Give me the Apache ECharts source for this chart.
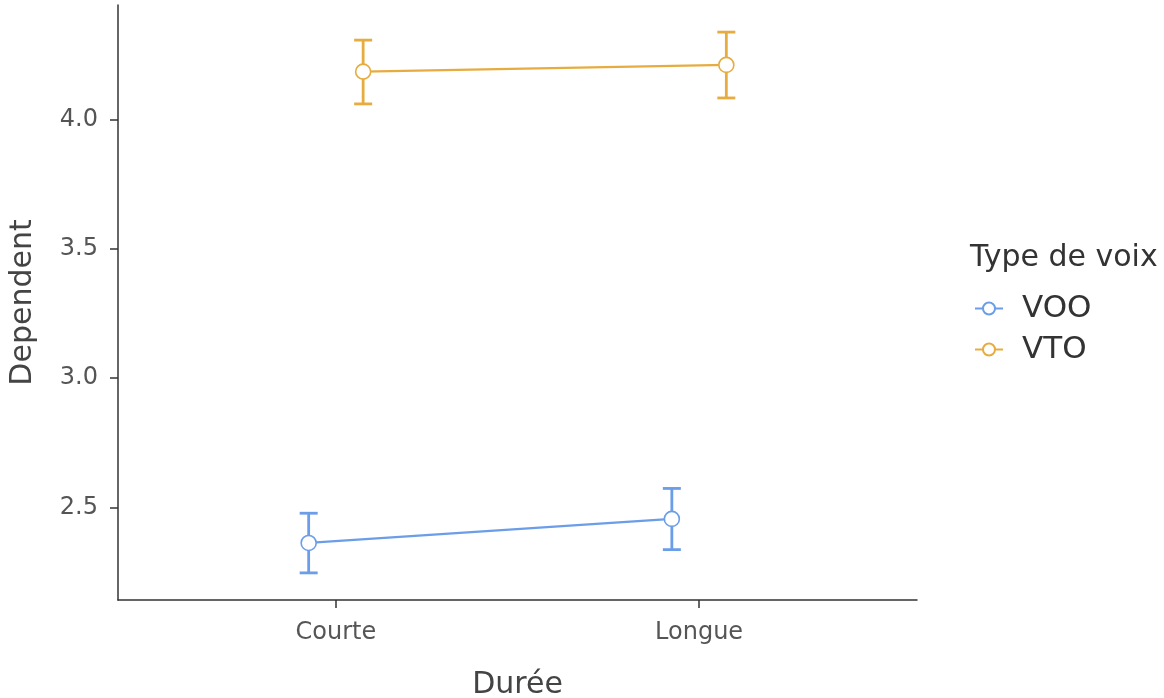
<!DOCTYPE html>
<html>
<head>
<meta charset="utf-8">
<script src="https://cdn.jsdelivr.net/npm/echarts@6/dist/echarts.min.js"></script>
<style>
  html, body { margin: 0; padding: 0; background: #fff; }
  #chart { width: 1164px; height: 698px; }
</style>
</head>
<body>
<div id="chart"></div>
<script>
// Estimated marginal means with confidence intervals
const categories = ['Courte', 'Longue'];
const groups = ['VOO', 'VTO'];
const vooMean  = [2.362, 2.455];
const vooLower = [2.246, 2.336];
const vooUpper = [2.477, 2.573];
const vtoMean  = [4.187, 4.213];
const vtoLower = [4.062, 4.085];
const vtoUpper = [4.309, 4.340];
const yTicks = [2.5, 3.0, 3.5, 4.0];

const colors = { VOO: '#6B9DE8', VTO: '#E6AC40' };
const dodge = { VOO: -0.075, VTO: 0.075 };
const font = '"DejaVu Sans", "Liberation Sans", sans-serif';

const groupData = {
  VOO: { mean: vooMean, lower: vooLower, upper: vooUpper },
  VTO: { mean: vtoMean, lower: vtoLower, upper: vtoUpper }
};

function errorBarSeries(name) {
  const g = groupData[name];
  const data = categories.map((c, i) => [i + 1 + dodge[name], g.lower[i], g.upper[i]]);
  return {
    type: 'custom',
    name: name + ' CI',
    z: 2,
    silent: true,
    data: data,
    encode: { x: 0, y: [1, 2] },
    renderItem: function (params, api) {
      const x = api.value(0);
      const lo = api.coord([x, api.value(1)]);
      const hi = api.coord([x, api.value(2)]);
      const half = 9;
      const style = { stroke: colors[name], lineWidth: 2.8, fill: null };
      return {
        type: 'group',
        children: [
          { type: 'line', shape: { x1: lo[0], y1: lo[1], x2: hi[0], y2: hi[1] }, style: style },
          { type: 'line', shape: { x1: lo[0] - half, y1: lo[1], x2: lo[0] + half, y2: lo[1] }, style: style },
          { type: 'line', shape: { x1: hi[0] - half, y1: hi[1], x2: hi[0] + half, y2: hi[1] }, style: style }
        ]
      };
    }
  };
}

function meanSeries(name) {
  const g = groupData[name];
  return {
    type: 'line',
    name: name,
    z: 3,
    data: categories.map((c, i) => [i + 1 + dodge[name], g.mean[i]]),
    symbol: 'circle',
    symbolSize: 15,
    lineStyle: { color: colors[name], width: 2.4 },
    itemStyle: { color: '#fff', borderColor: colors[name], borderWidth: 1.6 },
    emphasis: { disabled: true }
  };
}

const chart = echarts.init(document.getElementById('chart'));
chart.setOption({
  backgroundColor: '#fff',
  animation: false,
  grid: { left: 118, right: 247, top: 5, bottom: 98, containLabel: false, outerBoundsMode: 'none' },
  title: {
    text: 'Type de voix',
    left: 965,
    top: 238,
    textStyle: { fontFamily: font, fontSize: 30, fontWeight: 'normal', color: '#333' }
  },
  legend: {
    data: groups,
    orient: 'vertical',
    left: 969,
    top: 288,
    itemGap: 10,
    itemWidth: 28,
    itemHeight: 15,
    textStyle: { fontFamily: font, fontSize: 31, color: '#333', padding: [0, 0, 0, 14] }
  },
  xAxis: {
    type: 'value',
    min: 0.4,
    max: 2.6,
    name: 'Durée',
    nameLocation: 'middle',
    nameGap: 70,
    nameTextStyle: { fontFamily: font, fontSize: 30, color: '#444' },
    splitLine: { show: false },
    axisLine: { show: true, lineStyle: { color: '#333', width: 1.5 } },
    axisTick: { show: true, customValues: [1, 2], length: 8, lineStyle: { color: '#333', width: 1.5 } },
    axisLabel: {
      customValues: [1, 2],
      formatter: v => categories[Math.round(v) - 1],
      fontFamily: font, fontSize: 24, color: '#555', margin: 21
    }
  },
  yAxis: {
    type: 'value',
    min: 2.141,
    max: 4.445,
    name: 'Dependent',
    nameLocation: 'middle',
    nameGap: 80,
    nameTextStyle: { fontFamily: font, fontSize: 30, color: '#444' },
    splitLine: { show: false },
    axisLine: { show: true, lineStyle: { color: '#333', width: 1.5 } },
    axisTick: { show: true, customValues: yTicks, length: 8, lineStyle: { color: '#333', width: 1.5 } },
    axisLabel: {
      customValues: yTicks,
      formatter: v => v.toFixed(1),
      fontFamily: font, fontSize: 24, color: '#555', margin: 20
    }
  },
  series: [
    errorBarSeries('VOO'),
    errorBarSeries('VTO'),
    meanSeries('VOO'),
    meanSeries('VTO')
  ]
});
</script>
</body>
</html>
